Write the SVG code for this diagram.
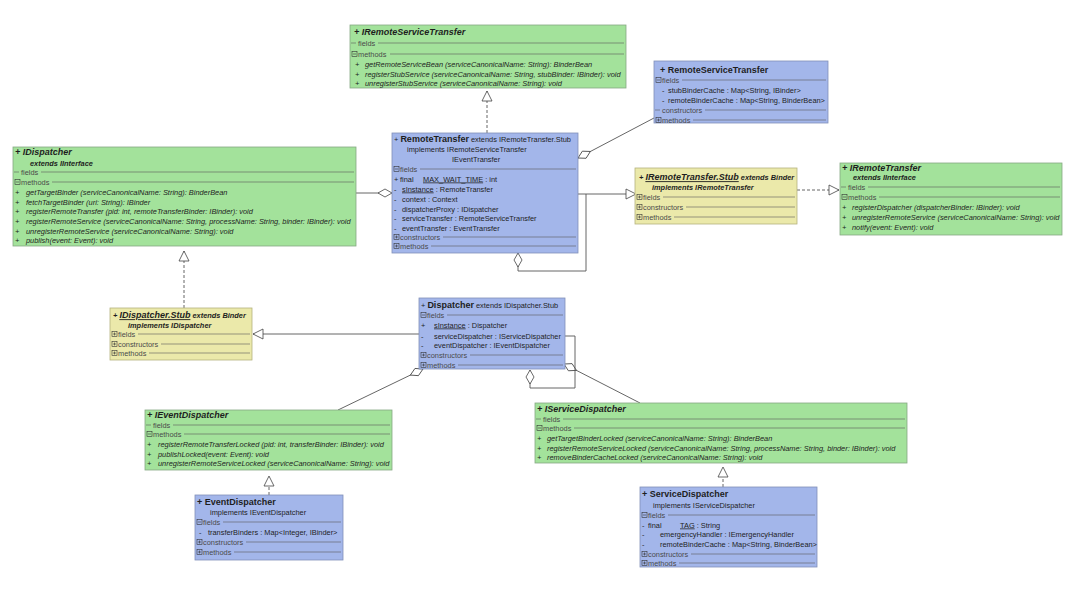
<svg xmlns="http://www.w3.org/2000/svg" xmlns:xlink="http://www.w3.org/1999/xlink" width="1080" height="597" viewBox="0 0 1080 597">
<style>
.t{font-family:"Liberation Sans",Arial,sans-serif;font-size:7.4px;fill:#1e1e1e}
.i{font-style:italic}
.h{font-size:9px;font-weight:bold}
.k{font-weight:bold}
.s{fill:#4a4a4a}
.u{text-decoration:underline}
.r{stroke:#5a5a5a;stroke-width:0.6;fill:none}
.g{fill:#a3e29b;stroke:#86a883;stroke-width:0.8}
.b{fill:#a3b6ea;stroke:#8090b8;stroke-width:0.8}
.y{fill:#ebe9aa;stroke:#b5b27e;stroke-width:0.8}
.c{fill:none;stroke:#555;stroke-width:0.9}
.d{stroke-dasharray:3 2}
</style>
<defs>
<g id="pl"><rect x="-2.5" y="-2.5" width="5" height="5" fill="none" stroke="#333" stroke-width="0.6"/><path d="M-1.5 0H1.5M0 -1.5V1.5" stroke="#333" stroke-width="0.6"/></g>
<g id="mi"><rect x="-2.5" y="-2.5" width="5" height="5" fill="none" stroke="#333" stroke-width="0.6"/><path d="M-1.5 0H1.5" stroke="#333" stroke-width="0.6"/></g>
<marker id="tri" markerUnits="userSpaceOnUse" markerWidth="14" markerHeight="12" refX="12" refY="6" orient="auto"><path d="M2,1 L12,6 L2,11 Z" fill="#fff" stroke="#444" stroke-width="0.8"/></marker>
<marker id="dia" markerUnits="userSpaceOnUse" markerWidth="16" markerHeight="10" refX="1" refY="5" orient="auto"><path d="M1,5 L8,1 L15,5 L8,9 Z" fill="#fff" stroke="#444" stroke-width="0.8"/></marker>
</defs>
<rect width="1080" height="597" fill="#fff"/>

<g id="connectors">
<path class="c d" d="M487,133V91" marker-end="url(#tri)"/>
<path class="c" d="M578,158L654,118" marker-start="url(#dia)"/>
<path class="c" d="M578,194H636" marker-end="url(#tri)"/>
<path class="c d" d="M797,190H839" marker-end="url(#tri)"/>
<path class="c" d="M392,193H356" marker-start="url(#dia)"/>
<path class="c" d="M518,253V271H586V194" marker-start="url(#dia)"/>
<path class="c d" d="M184,308V251" marker-end="url(#tri)"/>
<path class="c" d="M419,334H253" marker-end="url(#tri)"/>
<path class="c" d="M423,369L338,410" marker-start="url(#dia)"/>
<path class="c" d="M564,364L640,403" marker-start="url(#dia)"/>
<path class="c" d="M530,370V388H575V336H565" marker-start="url(#dia)"/>
<path class="c d" d="M269,495V476" marker-end="url(#tri)"/>
<path class="c d" d="M723,487V467" marker-end="url(#tri)"/>
</g>

<g id="IRemoteServiceTransfer">
<rect class="g" x="350" y="25" width="276" height="63"/>
<text class="t h i" x="354" y="35.2">+ IRemoteServiceTransfer</text>
<path class="r" d="M351,43H356M378,43H624M390,54H624"/>
<text class="t s" x="358" y="45.5">fields</text>
<use href="#mi" x="354.5" y="54"/>
<text class="t s" x="358" y="56.5">methods</text>
<text class="t i" x="355" y="66.5">+</text><text class="t i" x="365" y="66.5">getRemoteServiceBean (serviceCanonicalName: String): BinderBean</text>
<text class="t i" x="355" y="76.5">+</text><text class="t i" x="365" y="76.5">registerStubService (serviceCanonicalName: String,  stubBinder: IBinder): void</text>
<text class="t i" x="355" y="85.5">+</text><text class="t i" x="365" y="85.5">unregisterStubService (serviceCanonicalName: String): void</text>
</g>

<g id="RemoteServiceTransfer">
<rect class="b" x="654" y="61" width="174" height="62"/>
<text class="t h" x="660" y="73.2">+ RemoteServiceTransfer</text>
<path class="r" d="M682,80H826M655,110H660M705,110H826M693,120H826"/>
<use href="#mi" x="658.5" y="80"/>
<text class="t s" x="662" y="82.5">fields</text>
<text class="t" x="662" y="92.5">-</text><text class="t" x="668" y="92.5">stubBinderCache : Map&lt;String, IBinder&gt;</text>
<text class="t" x="662" y="102.5">-</text><text class="t" x="668" y="102.5">remoteBinderCache : Map&lt;String, BinderBean&gt;</text>
<text class="t s" x="662" y="112.5">constructors</text>
<use href="#pl" x="658.5" y="120"/>
<text class="t s" x="662" y="122.5">methods</text>
</g>

<g id="IDispatcher">
<rect class="g" x="13" y="147" width="343" height="99"/>
<text class="t h i" x="15" y="155.2">+ IDispatcher</text>
<text class="t i k" x="30" y="165.5">extends IInterface</text>
<path class="r" d="M14,172H19M41,172H354M52,182H354"/>
<text class="t s" x="21" y="174.5">fields</text>
<use href="#mi" x="17.5" y="182"/>
<text class="t s" x="21" y="184.5">methods</text>
<text class="t i" x="15" y="194.5">+</text><text class="t i" x="26" y="194.5">getTargetBinder (serviceCanonicalName: String): BinderBean</text>
<text class="t i" x="15" y="204.5">+</text><text class="t i" x="26" y="204.5">fetchTargetBinder (uri: String): IBinder</text>
<text class="t i" x="15" y="213.5">+</text><text class="t i" x="26" y="213.5">registerRemoteTransfer (pid: int,  remoteTransferBinder: IBinder): void</text>
<text class="t i" x="15" y="223.5">+</text><text class="t i" x="26" y="223.5">registerRemoteService (serviceCanonicalName: String,  processName: String,  binder: IBinder): void</text>
<text class="t i" x="15" y="233.5">+</text><text class="t i" x="26" y="233.5">unregisterRemoteService (serviceCanonicalName: String): void</text>
<text class="t i" x="15" y="242.5">+</text><text class="t i" x="26" y="242.5">publish(event: Event): void</text>
</g>

<g id="RemoteTransfer">
<rect class="b" x="392" y="133" width="186" height="120"/>
<text class="t" x="394" y="142.2">+ <tspan class="h">RemoteTransfer</tspan> extends IRemoteTransfer.Stub</text>
<text class="t" x="407" y="151.5">implements IRemoteServiceTransfer</text>
<text class="t" x="452" y="161.5">IEventTransfer</text>
<path class="r" d="M420,169H576M443,237H576M431,246H576"/>
<use href="#mi" x="396.5" y="169"/>
<text class="t s" x="400" y="171.5">fields</text>
<text class="t" x="394" y="181.5">+</text><text class="t" x="400" y="181.5">final</text><text class="t" x="423" y="181.5"><tspan class="u">MAX_WAIT_TIME</tspan> : int</text>
<text class="t" x="394" y="191.5">-</text><text class="t" x="402" y="191.5"><tspan class="u">sInstance</tspan> : RemoteTransfer</text>
<text class="t" x="394" y="201.5">-</text><text class="t" x="402" y="201.5">context : Context</text>
<text class="t" x="394" y="211.5">-</text><text class="t" x="402" y="211.5">dispatcherProxy : IDispatcher</text>
<text class="t" x="394" y="220.5">-</text><text class="t" x="402" y="220.5">serviceTransfer : RemoteServiceTransfer</text>
<text class="t" x="394" y="230.5">-</text><text class="t" x="402" y="230.5">eventTransfer : EventTransfer</text>
<use href="#pl" x="396.5" y="237"/>
<text class="t s" x="400" y="239.5">constructors</text>
<use href="#pl" x="396.5" y="246"/>
<text class="t s" x="400" y="248.5">methods</text>
</g>

<g id="IRemoteTransfer.Stub">
<rect class="y" x="635" y="168" width="162" height="56"/>
<text class="t i k" x="639" y="180.2">+ <tspan class="h u">IRemoteTransfer.Stub</tspan> extends Binder</text>
<text class="t i k" x="652" y="189.5">implements IRemoteTransfer</text>
<path class="r" d="M663,197H795M686,207H795M674,217H795"/>
<use href="#pl" x="639.5" y="197"/>
<text class="t s" x="643" y="199.5">fields</text>
<use href="#pl" x="639.5" y="207"/>
<text class="t s" x="643" y="209.5">constructors</text>
<use href="#pl" x="639.5" y="217"/>
<text class="t s" x="643" y="219.5">methods</text>
</g>

<g id="IRemoteTransfer">
<rect class="g" x="840" y="163" width="222" height="72"/>
<text class="t h i" x="842" y="171.2">+ IRemoteTransfer</text>
<text class="t i k" x="853" y="179.5">extends IInterface</text>
<path class="r" d="M841,187H846M868,187H1060M879,197H1060"/>
<text class="t s" x="848" y="189.5">fields</text>
<use href="#mi" x="844.5" y="197"/>
<text class="t s" x="848" y="199.5">methods</text>
<text class="t i" x="842" y="209.5">+</text><text class="t i" x="852" y="209.5">registerDispatcher (dispatcherBinder: IBinder): void</text>
<text class="t i" x="842" y="219.5">+</text><text class="t i" x="852" y="219.5">unregisterRemoteService (serviceCanonicalName: String): void</text>
<text class="t i" x="842" y="229.5">+</text><text class="t i" x="852" y="229.5">notify(event: Event): void</text>
</g>

<g id="IDispatcher.Stub">
<rect class="y" x="110" y="308" width="142" height="52"/>
<text class="t i k" x="113" y="318.2">+ <tspan class="h u">IDispatcher.Stub</tspan> extends Binder</text>
<text class="t i k" x="128" y="327.5">implements IDispatcher</text>
<path class="r" d="M138,334H250M161,344H250M149,353H250"/>
<use href="#pl" x="114.5" y="334"/>
<text class="t s" x="118" y="336.5">fields</text>
<use href="#pl" x="114.5" y="344"/>
<text class="t s" x="118" y="346.5">constructors</text>
<use href="#pl" x="114.5" y="353"/>
<text class="t s" x="118" y="355.5">methods</text>
</g>

<g id="Dispatcher">
<rect class="b" x="419" y="298" width="146" height="71"/>
<text class="t" x="421" y="308.2">+ <tspan class="h">Dispatcher</tspan> extends IDispatcher.Stub</text>
<path class="r" d="M447,315H563M470,355H563M458,365H563"/>
<use href="#mi" x="423.5" y="315"/>
<text class="t s" x="427" y="317.5">fields</text>
<text class="t" x="421" y="327.5">+</text><text class="t" x="434" y="327.5"><tspan class="u">sInstance</tspan> : Dispatcher</text>
<text class="t" x="421" y="338.5">-</text><text class="t" x="434" y="338.5">serviceDispatcher : IServiceDispatcher</text>
<text class="t" x="421" y="347.5">-</text><text class="t" x="434" y="347.5">eventDispatcher : IEventDispatcher</text>
<use href="#pl" x="423.5" y="355"/>
<text class="t s" x="427" y="357.5">constructors</text>
<use href="#pl" x="423.5" y="365"/>
<text class="t s" x="427" y="367.5">methods</text>
</g>

<g id="IEventDispatcher">
<rect class="g" x="145" y="410" width="247" height="60"/>
<text class="t h i" x="147" y="418.2">+ IEventDispatcher</text>
<path class="r" d="M146,425H151M173,425H390M184,434H390"/>
<text class="t s" x="153" y="427.5">fields</text>
<use href="#mi" x="149.5" y="434"/>
<text class="t s" x="153" y="436.5">methods</text>
<text class="t i" x="147" y="446.5">+</text><text class="t i" x="158" y="446.5">registerRemoteTransferLocked (pid: int,  transferBinder: IBinder): void</text>
<text class="t i" x="147" y="456.5">+</text><text class="t i" x="158" y="456.5">publishLocked(event: Event): void</text>
<text class="t i" x="147" y="465.5">+</text><text class="t i" x="158" y="465.5">unregisterRemoteServiceLocked (serviceCanonicalName: String): void</text>
</g>

<g id="IServiceDispatcher">
<rect class="g" x="535" y="403" width="372" height="60"/>
<text class="t h i" x="537" y="412.2">+ IServiceDispatcher</text>
<path class="r" d="M536,419H541M563,419H905M574,428H905"/>
<text class="t s" x="543" y="421.5">fields</text>
<use href="#mi" x="539.5" y="428"/>
<text class="t s" x="543" y="430.5">methods</text>
<text class="t i" x="537" y="440.5">+</text><text class="t i" x="547" y="440.5">getTargetBinderLocked (serviceCanonicalName: String): BinderBean</text>
<text class="t i" x="537" y="450.5">+</text><text class="t i" x="547" y="450.5">registerRemoteServiceLocked (serviceCanonicalName: String,  processName: String,  binder: IBinder): void</text>
<text class="t i" x="537" y="459.5">+</text><text class="t i" x="547" y="459.5">removeBinderCacheLocked (serviceCanonicalName: String): void</text>
</g>

<g id="EventDispatcher">
<rect class="b" x="195" y="495" width="148" height="65"/>
<text class="t h" x="197" y="505.2">+ EventDispatcher</text>
<text class="t" x="210" y="514.5">implements IEventDispatcher</text>
<path class="r" d="M223,522H341M246,542H341M234,552H341"/>
<use href="#mi" x="199.5" y="522"/>
<text class="t s" x="203" y="524.5">fields</text>
<text class="t" x="199" y="534.5">-</text><text class="t" x="208" y="534.5">transferBinders : Map&lt;Integer, IBinder&gt;</text>
<use href="#pl" x="199.5" y="542"/>
<text class="t s" x="203" y="544.5">constructors</text>
<use href="#pl" x="199.5" y="552"/>
<text class="t s" x="203" y="554.5">methods</text>
</g>

<g id="ServiceDispatcher">
<rect class="b" x="640" y="487" width="177" height="80"/>
<text class="t h" x="642" y="497.2">+ ServiceDispatcher</text>
<text class="t" x="653" y="507.5">implements IServiceDispatcher</text>
<path class="r" d="M668,515H815M691,554H815M679,563H815"/>
<use href="#mi" x="644.5" y="515"/>
<text class="t s" x="648" y="517.5">fields</text>
<text class="t" x="642" y="527.5">-</text><text class="t" x="648" y="527.5">final</text><text class="t" x="680" y="527.5"><tspan class="u">TAG</tspan> : String</text>
<text class="t" x="642" y="536.5">-</text><text class="t" x="660" y="536.5">emergencyHandler : IEmergencyHandler</text>
<text class="t" x="642" y="546.5">-</text><text class="t" x="660" y="546.5">remoteBinderCache : Map&lt;String, BinderBean&gt;</text>
<use href="#pl" x="644.5" y="554"/>
<text class="t s" x="648" y="556.5">constructors</text>
<use href="#pl" x="644.5" y="563"/>
<text class="t s" x="648" y="565.5">methods</text>
</g>
</svg>
